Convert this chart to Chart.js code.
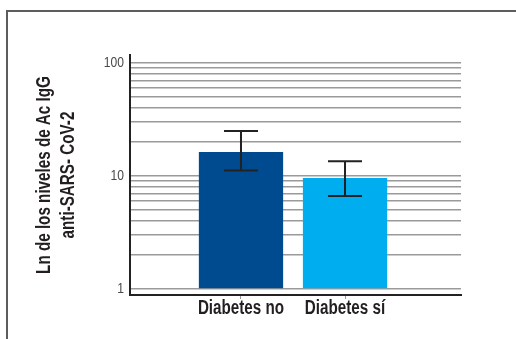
<!DOCTYPE html>
<html>
<head>
<meta charset="utf-8">
<script src="https://cdn.jsdelivr.net/npm/chart.js@4/dist/chart.umd.min.js"></script>
<style>
  html, body { margin: 0; padding: 0; background: #fff; }
  #wrap { position: relative; width: 516px; height: 339px; overflow: hidden; }
  #frame { position: absolute; left: 6px; top: 10px; width: 600px; height: 400px;
           border-left: 2px solid #5c5c5c; border-top: 2px solid #5c5c5c; }
  canvas { position: absolute; left: 0; top: 0; }
</style>
</head>
<body>
<div id="wrap">
  <div id="frame"></div>
  <canvas id="c" width="516" height="339"></canvas>
</div>
<script>
// Groups and their mean antibody levels (log scale) with interval limits
const categories = ['Diabetes no', 'Diabetes sí'];
const values = [16.3, 9.6];
const errLow = [11.2, 6.65];
const errHigh = [25, 13.5];
const barColors = ['#004a8f', '#00aeef'];

// Log-scale grid values and the ones that get a printed label
const yTicks = [1, 2, 3, 4, 5, 6, 7, 8, 9, 10, 20, 30, 40, 50, 60, 70, 80, 90, 100];
const yLabelled = [1, 10, 100];
const yTitle = ['Ln de los niveles de Ac IgG', 'anti-SARS- CoV-2'];

const FONT = "'Liberation Sans', Arial, sans-serif";

// Condensed lettering: squeeze every text run horizontally around its anchor
const canvas = document.getElementById('c');
const ctx2d = canvas.getContext('2d');
const plainFill = ctx2d.fillText.bind(ctx2d);
ctx2d.fillText = function (text, x, y) {
  this.save();
  this.translate(x, y);
  this.scale(0.78, 1);
  plainFill(text, 0, 0);
  this.restore();
};

// Whiskers drawn on top of each bar
const errorBars = {
  id: 'errorBars',
  afterDatasetsDraw(chart) {
    const ctx = chart.ctx;
    const y = chart.scales.y;
    const meta = chart.getDatasetMeta(0);
    ctx.save();
    ctx.strokeStyle = '#222';
    ctx.lineWidth = 2;
    meta.data.forEach((bar, i) => {
      const x = bar.x;
      const top = y.getPixelForValue(errHigh[i]);
      const bot = y.getPixelForValue(errLow[i]);
      const half = 17;
      ctx.beginPath();
      ctx.moveTo(x, top); ctx.lineTo(x, bot);
      ctx.moveTo(x - half, top); ctx.lineTo(x + half, top);
      ctx.moveTo(x - half, bot); ctx.lineTo(x + half, bot);
      ctx.stroke();
    });
    ctx.restore();
  }
};

new Chart(canvas, {
  type: 'bar',
  data: {
    datasets: [{
      data: values.map((v, i) => ({ x: i + 1, y: v })),
      backgroundColor: barColors,
      borderWidth: 0,
      base: 1,
      barPercentage: 0.81,
      categoryPercentage: 1
    }]
  },
  options: {
    responsive: false,
    animation: false,
    events: [],
    layout: { padding: { left: 0, top: 55, right: 55, bottom: 0 } },
    plugins: { legend: { display: false }, tooltip: { enabled: false } },
    scales: {
      x: {
        type: 'linear',
        offset: false,
        min: -0.067,
        max: 3.115,
        afterBuildTicks(scale) { scale.ticks = categories.map((c, i) => ({ value: i + 1 })); },
        afterFit(scale) { scale.height = 44; },
        ticks: {
          callback: (v) => categories[v - 1] || '',
          color: '#231f20',
          font: { family: FONT, size: 19.5, weight: 'bold' },
          padding: -2,
          maxRotation: 0,
          autoSkip: false
        },
        grid: { offset: false, drawOnChartArea: false, drawTicks: true, tickLength: 4, color: '#999', lineWidth: 1 },
        border: { display: true, color: '#222', width: 2 }
      },
      y: {
        type: 'logarithmic',
        min: 0.8847,
        max: 117.7,
        afterBuildTicks(scale) { scale.ticks = yTicks.map(v => ({ value: v })); },
        afterFit(scale) { scale.width = 130; },
        ticks: {
          callback: (v) => yLabelled.includes(v) ? String(v) : '',
          color: '#4a4a4a',
          font: { family: FONT, size: 15.5 },
          padding: 6,
          autoSkip: false
        },
        grid: { color: '#9a9a9a', lineWidth: 1.5, drawTicks: false },
        border: { display: true, color: '#222', width: 2 },
        title: {
          display: true,
          text: yTitle,
          color: '#231f20',
          font: { family: FONT, size: 19.5, weight: 'bold', lineHeight: 1.23 },
          padding: { top: 33, bottom: 0 }
        }
      }
    }
  },
  plugins: [errorBars]
});
</script>
</body>
</html>
